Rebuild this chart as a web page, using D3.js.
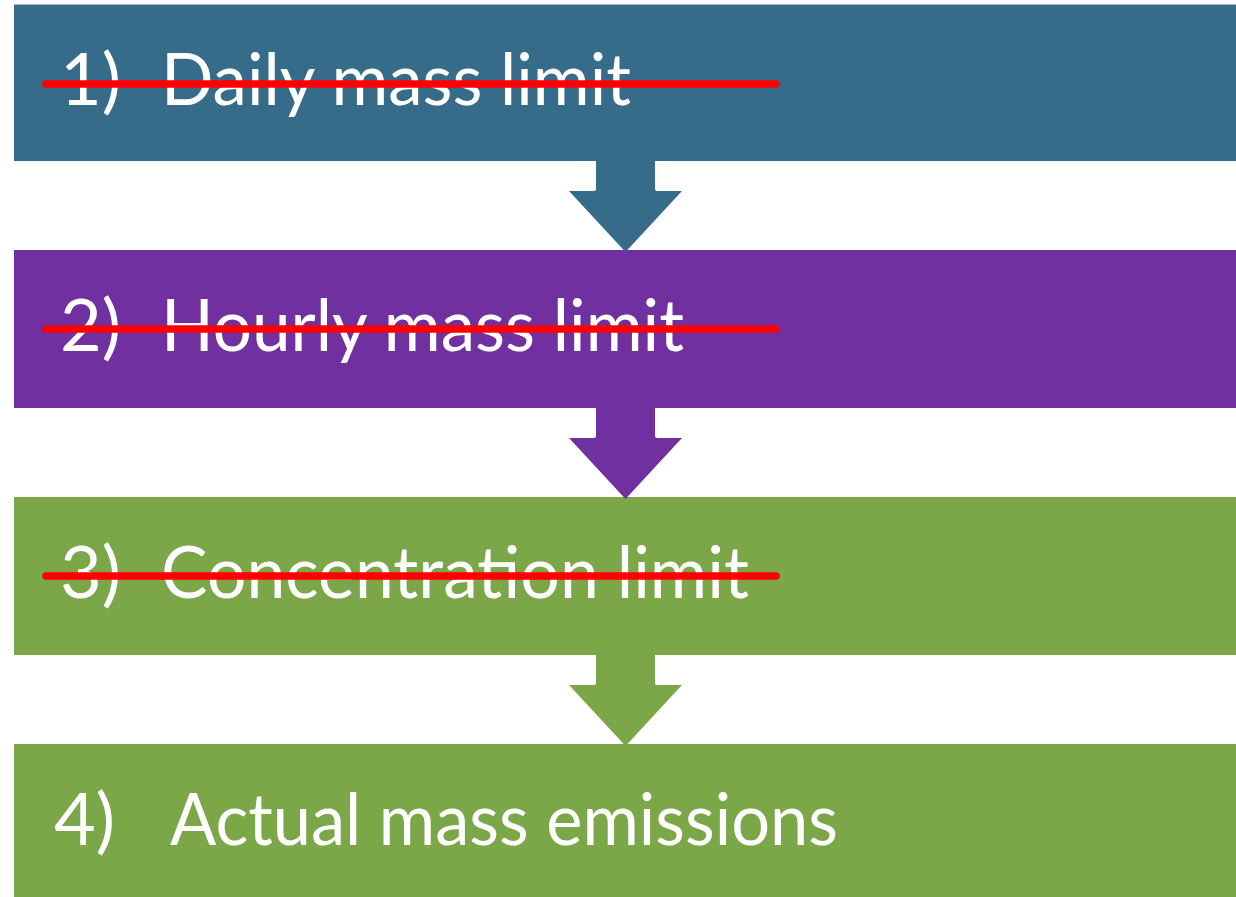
<!DOCTYPE html>
<html>
<head>
<meta charset="utf-8">
<script src="https://cdn.jsdelivr.net/npm/d3@7"></script>
<style>
  html, body { margin: 0; padding: 0; background: #ffffff; overflow: hidden; }
  svg { display: block; }
</style>
</head>
<body>
<div id="chart"></div>
<script>
// ---- data ----
const steps = ["1", "2", "3", "4"];
const numbers = ["1)", "2)", "3)", "4)"];
const labels = ["Daily mass limit", "Hourly mass limit", "Concentration limit", "Actual mass emissions"];
const struck = [true, true, true, false];
const colors = ["#366B89", "#7030A0", "#7BA748", "#7BA748"];
const labelWidths = [470, 523, 588, 668];

// ---- layout ----
const W = 1236, H = 897;
const svg = d3.select("#chart").append("svg").attr("width", W).attr("height", H);

const boxH = 158;
const y = d3.scaleBand().domain(steps).range([3, 3 + 4 * 247]).paddingInner(0).paddingOuter(0);
const x = d3.scaleLinear().domain([0, 1]).range([14, 1236]);

const data = steps.map((s, i) => ({
  step: s, num: numbers[i], label: labels[i], struck: struck[i], color: colors[i], lw: labelWidths[i]
}));

const g = svg.selectAll("g.step").data(data).enter().append("g").attr("class", "step");

g.append("rect")
  .attr("x", x(0))
  .attr("y", (d, i) => i === 0 ? y(d.step) + 1.5 : y(d.step))
  .attr("width", x(1) - x(0))
  .attr("height", (d, i) => i === 0 ? boxH - 1.5 : boxH)
  .attr("fill", d => d.color);

// arrows between boxes
const cx = 625.5, stemW = 59, headW = 113, stemH = 30;
const arrows = data.slice(0, -1).map((d, i) => ({ from: d, to: data[i + 1] }));
svg.selectAll("path.arrow").data(arrows).enter().append("path")
  .attr("class", "arrow")
  .attr("fill", d => d.from.color)
  .attr("d", d => {
    const top = y(d.from.step) + boxH - 1;
    const mid = y(d.from.step) + boxH + stemH;
    const tip = y(d.to.step) + 2;
    const r = 2;
    return `M${cx - stemW / 2},${top} L${cx - stemW / 2},${mid - r} Q${cx - stemW / 2},${mid} ${cx - stemW / 2 - r},${mid}
            L${cx - headW / 2},${mid} L${cx},${tip} L${cx + headW / 2},${mid}
            L${cx + stemW / 2 + r},${mid} Q${cx + stemW / 2},${mid} ${cx + stemW / 2},${mid - r} L${cx + stemW / 2},${top} Z`;
  });

const fontFamily = "Lato, 'Open Sans', sans-serif";

g.append("text")
  .attr("x", d => d.struck ? 60 : 54)
  .attr("y", (d, i) => y(d.step) + (i === 0 ? 102 : 101))
  .attr("fill", "#ffffff")
  .attr("font-family", fontFamily)
  .attr("font-size", 72)
  .text(d => d.num);

g.append("text")
  .attr("x", d => d.struck ? 161 : 170)
  .attr("y", (d, i) => y(d.step) + (i === 0 ? 102 : 101))
  .attr("fill", "#ffffff")
  .attr("font-family", fontFamily)
  .attr("font-size", 72)
  .attr("textLength", d => d.lw)
  .attr("lengthAdjust", "spacingAndGlyphs")
  .text(d => d.label);

// strike-through lines
g.filter(d => d.struck).append("line")
  .attr("x1", 46)
  .attr("x2", 776)
  .attr("y1", (d, i) => y(d.step) + (i === 0 ? 81 : 79))
  .attr("y2", (d, i) => y(d.step) + (i === 0 ? 81 : 79))
  .attr("stroke", "#FF0000")
  .attr("stroke-width", 7.5)
  .attr("stroke-linecap", "round");
</script>
</body>
</html>
